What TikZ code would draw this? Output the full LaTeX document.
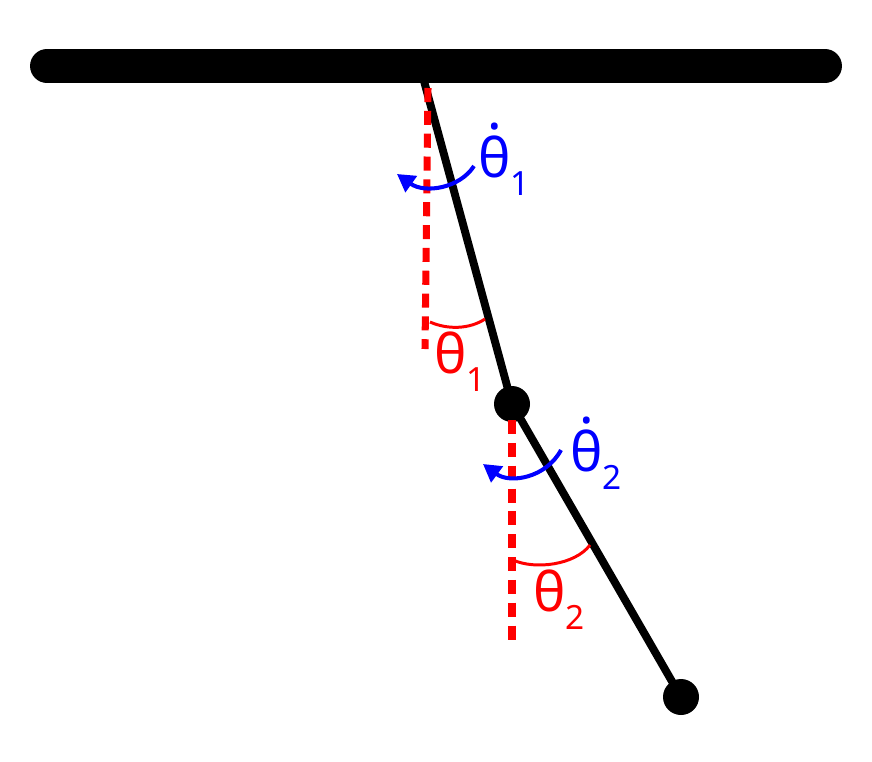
\documentclass[tikz,border=0pt]{standalone}
\usepackage{fontspec}
\setmainfont{Noto Sans}
\usetikzlibrary{arrows.meta}
\newcommand{\lowsub}[1]{\raisebox{-0.33em}{\fontsize{19}{19}\selectfont #1}}
\newcommand{\dotted}[1]{{\ooalign{#1\cr\hidewidth\raisebox{0.88em}{.}\hidewidth\cr}}}
\begin{document}
\begin{tikzpicture}[x=0.02cm,y=-0.02cm,
  bar/.style={line width=19.3pt,line cap=round},
  rod/.style={line width=4.5pt},
  mass/.style={circle,fill=black,minimum size=0.72cm,inner sep=0pt},
  vert/.style={red,line width=4pt,dash pattern=on 8pt off 5pt},
  anglearc/.style={red,line width=1.7pt},
  rate/.style={blue,line width=2.3pt,-{Triangle[length=10pt,width=11pt]}},
  redlbl/.style={red,font=\fontsize{31}{31}\selectfont,inner sep=0pt},
  bluelbl/.style={blue,font=\fontsize{31}{31}\selectfont,inner sep=0pt}]
\useasboundingbox (0,0) rectangle (872,761);
% ceiling and links
\coordinate (left) at (47,66);
\coordinate (right) at (825,66);
\coordinate (pivot) at (421,70);
\node[mass] (joint) at (512,404) {};
\node[mass] (tip) at (681,697) {};
\draw[bar] (left) -- (right);
\draw[rod] (pivot) -- (joint.center);
\draw[rod] (joint.center) -- (tip.center);
% verticals
\coordinate (v1a) at (428,88);
\coordinate (v1b) at (425,349);
\coordinate (v2a) at (512,420);
\coordinate (v2b) at (512,645);
\draw[vert] (v1a) -- (v1b);
\draw[vert] (v2a) -- (v2b);
% angles
\coordinate (a1s) at (430,322);
\coordinate (a1e) at (485,319);
\coordinate (a2s) at (513,560);
\coordinate (a2e) at (590,545);
\draw[anglearc] (a1s) .. controls (448,330) and (470,329) .. (a1e);
\draw[anglearc] (a2s) .. controls (535,570) and (575,565) .. (a2e);
\node[redlbl] (th1) at (460,362) {θ\lowsub{1}};
\node[redlbl] (th2) at (559,600) {θ\lowsub{2}};
% rates
\coordinate (r1s) at (474,166);
\coordinate (r1e) at (397,174);
\coordinate (r2s) at (561,450);
\coordinate (r2e) at (483,464);
\draw[rate] (r1s) .. controls (460,188) and (425,194) .. (r1e);
\draw[rate] (r2s) .. controls (546,478) and (510,484) .. (r2e);
\node[bluelbl,anchor=south west] (w1) at (478,196) {\dotted{θ}\lowsub{1}};
\node[bluelbl,anchor=south west] (w2) at (570,490) {\dotted{θ}\lowsub{2}};
\end{tikzpicture}
\end{document}
